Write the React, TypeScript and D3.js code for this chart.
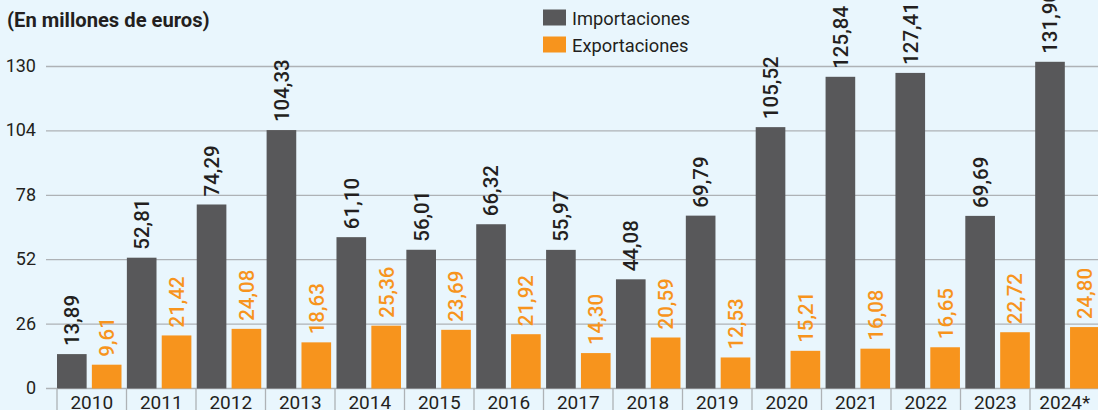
import React from "react";
import * as d3 from "d3";

const years = ["2010","2011","2012","2013","2014","2015","2016","2017","2018","2019","2020","2021","2022","2023","2024*"];
const importaciones = [13.89,52.81,74.29,104.33,61.10,56.01,66.32,55.97,44.08,69.79,105.52,125.84,127.41,69.69,131.90];
const exportaciones = [9.61,21.42,24.08,18.63,25.36,23.69,21.92,14.30,20.59,12.53,15.21,16.08,16.65,22.72,24.80];
const yTicks = [0,26,52,78,104,130];
const seriesKeys = ["imp","exp"];
const seriesNames = ["Importaciones","Exportaciones"];
const colors = ["#58585a","#f7941d"];
const labelColors = ["#231f20","#f7941d"];

const W = 1098, H = 410;
const FONT = "Roboto, 'Liberation Sans', sans-serif";

export default function App() {
  const y = d3.scaleLinear().domain([0, 130]).range([388.5, 66.5]);
  const xBars = d3.scaleBand<string>().domain(years).range([57, 57 + 15 * 69.87]).paddingInner(0).paddingOuter(0);
  const xSub = d3.scaleBand<string>().domain(seriesKeys).range([0, 64.5]).paddingInner(0.15).paddingOuter(0);
  const xAxis = d3.scaleBand<string>().domain(years).range([57, 57 + 15 * 69.5]);
  const fmt = (v: number) => v.toFixed(2).replace(".", ",");
  const data = [importaciones, exportaciones];

  return (
    <svg width={W} height={H} style={{ position: "absolute", left: 0, top: 0, display: "block" }} fontFamily={FONT}>
      <rect x={0} y={0} width={W} height={H} fill="#e9f6fd" />
      <text x={7} y={27.3} fontSize={20.2} fontWeight={700} fill="#231f20">(En millones de euros)</text>
      {seriesNames.map((n, i) => (
        <g key={n}>
          <rect x={543} y={9.5 + i * 27} width={23} height={16} fill={colors[i]} />
          <text x={572} y={25 + i * 27} fontSize={18.3} fill="#231f20">{n}</text>
        </g>
      ))}
      {yTicks.map(t => (
        <g key={t}>
          <line x1={46} x2={W} y1={y(t)} y2={y(t)} stroke="#aeb2b6" strokeWidth={1.3} />
          <text x={36} y={y(t)} dy="0.3em" textAnchor="end" fontSize={18} fill="#231f20">{t}</text>
        </g>
      ))}
      {years.map((yr, i) => (
        <g key={yr}>
          {data.map((arr, s) => {
            const x0 = (xBars(yr) as number) + (xSub(seriesKeys[s]) as number);
            const bw = xSub.bandwidth();
            const v = arr[i];
            return (
              <g key={s}>
                <rect x={x0} y={y(v)} width={bw} height={y(0) - y(v)} fill={colors[s]} />
                <text transform={`translate(${x0 + bw / 2},${y(v) - 8}) rotate(-90)`} dy="0.36em" fontSize={20.5} fontWeight={500} fill={labelColors[s]}>{fmt(v)}</text>
              </g>
            );
          })}
        </g>
      ))}
      {years.map(yr => (
        <g key={"ax" + yr}>
          <line x1={xAxis(yr)} x2={xAxis(yr)} y1={y(0)} y2={H} stroke="#aeb2b6" strokeWidth={1.3} />
          <text x={(xAxis(yr) as number) + xAxis.bandwidth() / 2} y={408.5} textAnchor="middle" fontSize={19} fill="#231f20">{yr}</text>
        </g>
      ))}
    </svg>
  );
}
